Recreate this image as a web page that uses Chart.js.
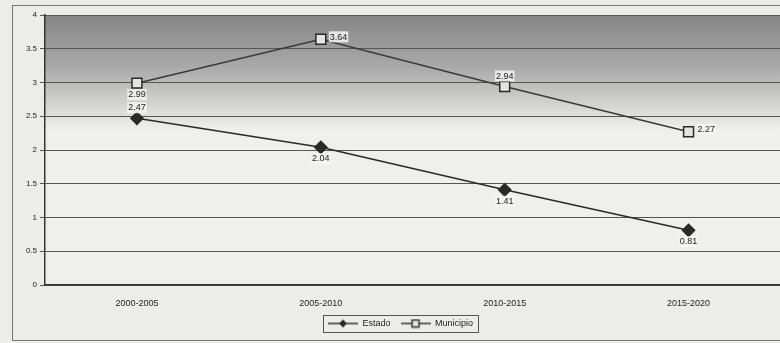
<!DOCTYPE html>
<html>
<head>
<meta charset="utf-8">
<script src="https://cdn.jsdelivr.net/npm/chart.js@4"></script>
<style>
  html, body { margin: 0; padding: 0; background: #ececea; overflow: hidden; }
  #wrap { width: 789px; height: 343px; }
</style>
</head>
<body>
<div id="wrap"><canvas id="grafica" width="789" height="343"></canvas></div>
<script>
const periodos = ['2000-2005', '2005-2010', '2010-2015', '2015-2020'];
const estado = [2.47, 2.04, 1.41, 0.81];
const municipio = [2.99, 3.64, 2.94, 2.27];
const ticksY = [0, 0.5, 1, 1.5, 2, 2.5, 3, 3.5, 4];

// posicion de cada etiqueta respecto al punto
const posEstado = ['above', 'below', 'below', 'below'];
const posMunicipio = ['below', 'right', 'above', 'right'];

const fuente = "'Liberation Sans Narrow', 'Liberation Sans', Arial, sans-serif";

// icono de leyenda: linea con marcador al centro
function icono(tipo) {
    const c = document.createElement('canvas');
    c.width = 30; c.height = 10;
    const g = c.getContext('2d');
    g.strokeStyle = '#2a2a2a';
    g.lineWidth = 1.4;
    g.beginPath(); g.moveTo(0, 5); g.lineTo(30, 5); g.stroke();
    if (tipo === 'rombo') {
        g.fillStyle = '#2a2a2a';
        g.beginPath(); g.moveTo(15, 1); g.lineTo(19, 5); g.lineTo(15, 9); g.lineTo(11, 5); g.closePath(); g.fill();
    } else {
        g.fillStyle = '#e4e4e2';
        g.fillRect(11, 1, 8, 8);
        g.strokeRect(11.5, 1.5, 7, 7);
    }
    return c;
}
const iconos = [icono('rombo'), icono('cuadro')];

const fondoYMarco = {
    id: 'fondoYMarco',
    beforeDraw(chart) {
        const { ctx, chartArea: a } = chart;
        ctx.save();
        ctx.fillStyle = '#ececea';
        ctx.fillRect(0, 0, chart.width, chart.height);
        ctx.strokeStyle = '#777';
        ctx.lineWidth = 1;
        ctx.strokeRect(12.5, 5.5, chart.width, chart.height - 8);
        const y = chart.scales.y;
        const corte = y.getPixelForValue(2.3);
        const g = ctx.createLinearGradient(0, a.top, 0, corte);
        g.addColorStop(0, '#858585');
        g.addColorStop(0.45, '#a9a9a9');
        g.addColorStop(1, '#efefed');
        ctx.fillStyle = g;
        ctx.fillRect(a.left, a.top, a.right - a.left, corte - a.top);
        ctx.fillStyle = '#efefed';
        ctx.fillRect(a.left, corte, a.right - a.left, a.bottom - corte);
        ctx.restore();
    },
    afterDraw(chart) {
        const { ctx } = chart;
        const cajas = chart.legend.legendHitBoxes;
        if (!cajas || !cajas.length) return;
        const x0 = cajas[0].left - 5;
        const last = cajas[cajas.length - 1];
        const x1 = last.left + last.width + 5;
        const y0 = cajas[0].top - 4;
        const y1 = cajas[0].top + cajas[0].height + 4;
        ctx.save();
        ctx.strokeStyle = '#555';
        ctx.lineWidth = 1;
        ctx.strokeRect(Math.round(x0) + 0.5, Math.round(y0) + 0.5, Math.round(x1 - x0), Math.round(y1 - y0));
        ctx.restore();
    }
};

const etiquetas = {
    id: 'etiquetas',
    afterDatasetsDraw(chart) {
        const { ctx } = chart;
        ctx.save();
        ctx.font = '9px ' + fuente;
        const grupos = [posEstado, posMunicipio];
        chart.data.datasets.forEach((ds, i) => {
            chart.getDatasetMeta(i).data.forEach((p, j) => {
                const pos = grupos[i][j];
                const txt = ds.data[j].toFixed(2);
                let x = p.x, yy = p.y;
                if (pos === 'above') { ctx.textAlign = 'center'; ctx.textBaseline = 'bottom'; yy -= 6; }
                else if (pos === 'below') { ctx.textAlign = 'center'; ctx.textBaseline = 'top'; yy += 7; }
                else { ctx.textAlign = 'left'; ctx.textBaseline = 'middle'; x += 9; yy -= 2; }
                const w = ctx.measureText(txt).width;
                ctx.fillStyle = 'rgba(245,245,243,0.85)';
                const bx = ctx.textAlign === 'center' ? x - w / 2 - 1 : x - 1;
                const by = ctx.textBaseline === 'bottom' ? yy - 10 : (ctx.textBaseline === 'top' ? yy - 1 : yy - 6);
                ctx.fillRect(bx, by, w + 2, 11);
                ctx.fillStyle = '#222';
                ctx.fillText(txt, x, yy);
            });
        });
        ctx.restore();
    }
};

new Chart(document.getElementById('grafica'), {
    type: 'line',
    data: {
        labels: periodos,
        datasets: [{
            label: 'Estado',
            data: estado,
            borderColor: '#2a2a2a',
            backgroundColor: '#2a2a2a',
            borderWidth: 1.6,
            pointStyle: 'rectRot',
            pointRadius: 6,
            pointBackgroundColor: '#2a2a2a',
            pointBorderColor: '#2a2a2a',
            tension: 0
        }, {
            label: 'Municipio',
            data: municipio,
            borderColor: '#3a3a3a',
            backgroundColor: '#e4e4e2',
            borderWidth: 1.6,
            pointStyle: 'rect',
            pointRadius: 7,
            pointBorderWidth: 1.5,
            pointBackgroundColor: '#e4e4e2',
            pointBorderColor: '#2a2a2a',
            tension: 0
        }]
    },
    options: {
        responsive: false,
        animation: false,
        layout: { padding: { left: 12, top: 15, right: 0, bottom: 5 } },
        scales: {
            x: {
                offset: true,
                grid: { display: false, drawTicks: false },
                border: { color: '#333', width: 1.5 },
                ticks: { color: '#222', font: { family: fuente, size: 9 }, padding: 13 },
                afterFit(s) { s.height = 24; }
            },
            y: {
                min: 0,
                max: 4,
                afterBuildTicks(s) { s.ticks = ticksY.map(v => ({ value: v })); },
                grid: { color: '#555', lineWidth: 1, tickLength: 5 },
                border: { color: '#333', width: 1.5 },
                ticks: {
                    color: '#222',
                    font: { family: fuente, size: 8 },
                    padding: 3,
                    callback: v => String(v)
                },
                afterFit(s) { s.width = 33; }
            }
        },
        plugins: {
            legend: {
                position: 'bottom',
                labels: {
                    usePointStyle: true,
                    pointStyleWidth: 30,
                    boxHeight: 10,
                    padding: 10,
                    color: '#222',
                    font: { family: fuente, size: 9 },
                    generateLabels(chart) {
                        const base = Chart.defaults.plugins.legend.labels.generateLabels(chart);
                        return base.map((it, i) => Object.assign(it, { pointStyle: iconos[i] }));
                    }
                }
            },
            tooltip: { enabled: false }
        }
    },
    plugins: [fondoYMarco, etiquetas]
});
</script>
</body>
</html>
